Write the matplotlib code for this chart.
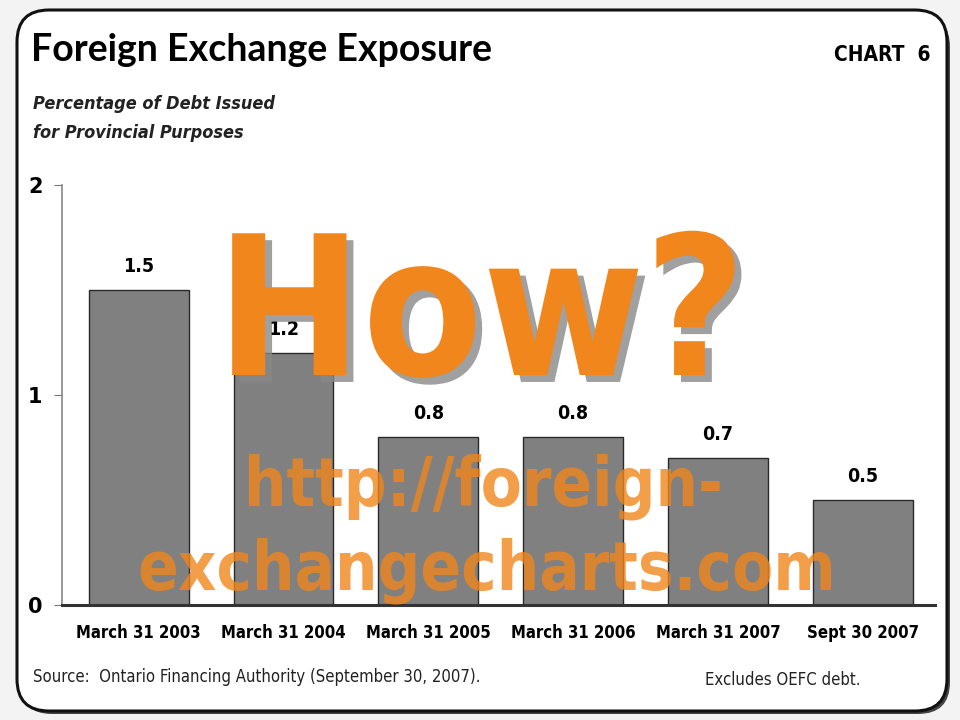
import matplotlib
matplotlib.use("Agg")
import matplotlib.pyplot as plt
import matplotlib.patheffects as pe
from matplotlib.patches import FancyBboxPatch

# chart data
dates = ["March 31 2003", "March 31 2004", "March 31 2005",
         "March 31 2006", "March 31 2007", "Sept 30 2007"]
share = [1.5, 1.2, 0.8, 0.8, 0.7, 0.5]
yticks = [0, 1, 2]

orange = "#f0861c"
cond = dict(family="DejaVu Sans", stretch="condensed")

fig = plt.figure(figsize=(9.6, 7.2), dpi=100, facecolor="#f3f3f3")

# rounded frame, drawn in inches so the corners stay round
shadow = FancyBboxPatch((0.20, 0.06), 9.30, 6.99, boxstyle="round,pad=0,rounding_size=0.32",
                        transform=fig.dpi_scale_trans, facecolor="#444444", edgecolor="none", zorder=-2)
frame = FancyBboxPatch((0.17, 0.09), 9.30, 7.01, boxstyle="round,pad=0,rounding_size=0.32",
                       transform=fig.dpi_scale_trans, facecolor="white", edgecolor="#111111",
                       linewidth=2.2, zorder=-1)
fig.patches.extend([shadow, frame])

def px(x, y):
    return x / 960, 1 - y / 720

fig.text(*px(31, 50), "Foreign Exchange Exposure", fontsize=27, fontweight="bold",
         family=["Lato", "DejaVu Sans"], va="center", ha="left")
fig.text(*px(930, 55), "CHART  6", fontsize=15, fontweight="bold", va="center", ha="right", **cond)
fig.text(*px(33, 104), "Percentage of Debt Issued", fontsize=13, fontstyle="italic",
         fontweight="bold", va="center", ha="left", color="#222222", **cond)
fig.text(*px(33, 133), "for Provincial Purposes", fontsize=13, fontstyle="italic",
         fontweight="bold", va="center", ha="left", color="#222222", **cond)

ax = fig.add_axes([62 / 960, 1 - 605 / 720, (935 - 62) / 960, (605 - 185) / 720])
ax.set_facecolor("none")
x = list(range(len(dates)))
ax.bar(x, share, width=0.69, color="#808080", edgecolor="#2a2a2a", linewidth=1.0, zorder=2)
for xi, v in zip(x, share):
    ax.annotate(f"{v:.1f}", (xi, v), xytext=(0, 17), textcoords="offset points",
                ha="center", va="center", fontsize=14, fontweight="bold", **cond)

ax.set_xlim(-0.53, 5.5)
ax.set_ylim(0, 2)
ax.set_yticks(yticks)
ax.set_yticklabels([str(t) for t in yticks], fontsize=15, fontweight="bold")
ax.set_xticks(x)
ax.set_xticklabels(dates, fontsize=12, fontweight="bold", **cond)
ax.tick_params(axis="y", length=6, color="#777777", pad=8)
ax.tick_params(axis="x", length=0, pad=14)
for s in ["top", "right"]:
    ax.spines[s].set_visible(False)
ax.spines["left"].set_color("#888888")
ax.spines["left"].set_linewidth(1.2)
ax.spines["bottom"].set_color("#333333")
ax.spines["bottom"].set_linewidth(2.2)

fig.text(*px(33, 677), "Source:  Ontario Financing Authority (September 30, 2007).", fontsize=12,
         va="center", ha="left", color="#222222", **cond)
fig.text(*px(705, 680), "Excludes OEFC debt.", fontsize=12,
         va="center", ha="left", color="#222222", **cond)

# overlay text
fig.text(*px(481, 375), "How?", fontsize=140, fontweight="bold", color=orange,
         ha="center", va="baseline", zorder=10, **cond,
         path_effects=[pe.withSimplePatchShadow(offset=(5, -5), shadow_rgbFace="#888888", alpha=0.8)])
fig.text(*px(483, 505), "http://foreign-", fontsize=48, fontweight="bold", color=orange,
         alpha=0.8, ha="center", va="baseline", zorder=10, **cond)
fig.text(*px(487, 590), "exchangecharts.com", fontsize=48, fontweight="bold", color=orange,
         alpha=0.8, ha="center", va="baseline", zorder=10, **cond)

fig.savefig("out.png", dpi=100, facecolor=fig.get_facecolor())
